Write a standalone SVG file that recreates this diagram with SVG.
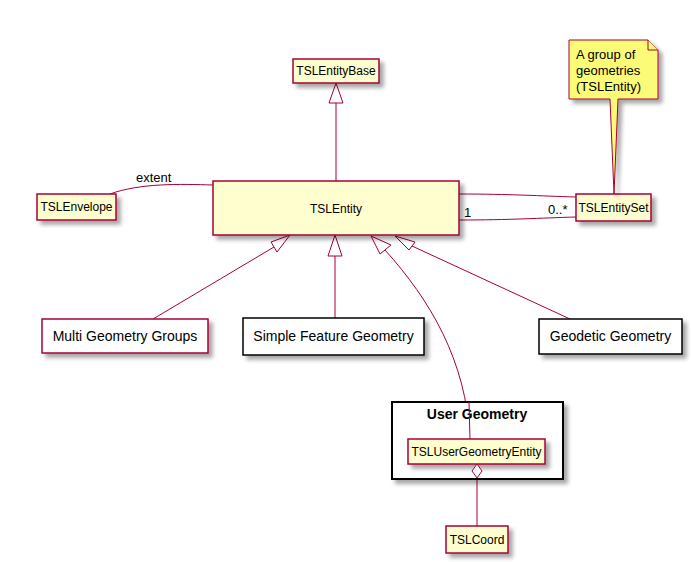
<svg xmlns="http://www.w3.org/2000/svg" width="691" height="562" viewBox="0 0 691 562">
<defs>
<filter id="sh" x="-10%" y="-10%" width="130%" height="140%">
<feGaussianBlur in="SourceAlpha" stdDeviation="2"/>
<feOffset dx="4" dy="4" result="b"/>
<feComponentTransfer><feFuncA type="linear" slope="0.35"/></feComponentTransfer>
<feMerge><feMergeNode/><feMergeNode in="SourceGraphic"/></feMerge>
</filter>
</defs>
<style>
.cls{fill:#FEFECE;stroke:#A80036;stroke-width:1.5}
.pkg{fill:#FFFFFF;stroke:#A80036;stroke-width:1.5}
.blk{fill:#FFFFFF;stroke:#000000;stroke-width:1.5}
.frm{fill:#FFFFFF;stroke:#000000;stroke-width:2}
.note{fill:#FBFB77;stroke:#A80036;stroke-width:1}
.ln{fill:none;stroke:#A80036;stroke-width:1}
.tri{fill:#FFFFFF;stroke:#A80036;stroke-width:1}
text{font-family:"Liberation Sans",Arial,sans-serif;fill:#000000}
.t12{font-size:12px;text-anchor:middle}
.t14{font-size:14px;text-anchor:middle}
.t13{font-size:13px}
.b14{font-size:14px;font-weight:bold;text-anchor:middle}
</style>
<rect width="691" height="562" fill="#FFFFFF"/>

<g id="connectors">
<path class="ln" d="M336,181 L336,103"/>
<polygon class="tri" points="336,83 329,103 343,103"/>
<path class="ln" d="M110,194 C140,183 180,184 213,185"/>
<text class="t13" x="136" y="182">extent</text>
<path class="ln" d="M459,194 C510,194 540,196 576,197"/>
<path class="ln" d="M459,220 C510,220 540,218 576,217"/>
<text class="t13" x="464" y="217">1</text>
<text class="t13" x="548" y="214">0..*</text>
<path class="ln" d="M274,247 L153,319"/>
<polygon class="tri" points="290,235 271,242 277,252"/>
<path class="ln" d="M335,256 L335,318"/>
<polygon class="tri" points="335,235 328,256 342,256"/>
<path class="ln" d="M385,250 C430,300 466,360 470,439"/>
<polygon class="tri" points="371,236 380,254 391,245"/>
<path class="ln" d="M412,246 L570,319"/>
<polygon class="tri" points="395,236 409,250 415,242"/>
<path class="ln" d="M477,478 L477,526"/>
<polygon class="tri" points="477,464 482,471 477,478 472,471"/>
</g>

<g id="TSLEntityBase">
<rect class="cls" x="293" y="59" width="86" height="24" filter="url(#sh)"/>
<text class="t12" x="336" y="75">TSLEntityBase</text>
</g>

<g id="TSLEntity">
<rect class="cls" x="213" y="181" width="246" height="54" filter="url(#sh)"/>
<text class="t12" x="336" y="213">TSLEntity</text>
</g>

<g id="TSLEnvelope">
<rect class="cls" x="37" y="194" width="79" height="26" filter="url(#sh)"/>
<text class="t12" x="76.5" y="211">TSLEnvelope</text>
</g>

<g id="TSLEntitySet">
<rect class="cls" x="576" y="194" width="75" height="27" filter="url(#sh)"/>
<text class="t12" x="613.5" y="212">TSLEntitySet</text>
</g>

<g id="note">
<path class="note" d="M569,40 L648,40 L658,50 L658,99 L618,99 L614,194 L610,99 L569,99 Z" filter="url(#sh)"/>
<path class="note" d="M648,40 L648,50 L658,50" fill="none"/>
<text class="t13" x="576" y="59">A group of</text>
<text class="t13" x="576" y="75">geometries</text>
<text class="t13" x="576" y="91">(TSLEntity)</text>
</g>

<g id="MultiGeometryGroups">
<rect class="pkg" x="42" y="319" width="166" height="34" filter="url(#sh)"/>
<text class="t14" x="125" y="341">Multi Geometry Groups</text>
</g>

<g id="SimpleFeatureGeometry">
<rect class="blk" x="243" y="318" width="181" height="37" filter="url(#sh)"/>
<text class="t14" x="333.5" y="341">Simple Feature Geometry</text>
</g>

<g id="GeodeticGeometry">
<rect class="blk" x="539" y="319" width="143" height="35" filter="url(#sh)"/>
<text class="t14" x="610.5" y="341">Geodetic Geometry</text>
</g>

<g id="UserGeometry">
<rect class="frm" x="392" y="402" width="171" height="77" filter="url(#sh)"/>
<text class="b14" x="477" y="419">User Geometry</text>
</g>

<g id="TSLUserGeometryEntity">
<path class="ln" d="M469,402 L470,439"/>
<rect class="cls" x="408" y="439" width="137" height="25" filter="url(#sh)"/>
<text class="t12" x="476.5" y="456">TSLUserGeometryEntity</text>
<polygon class="tri" points="477,464 482,471 477,478 472,471"/>
</g>

<g id="TSLCoord">
<rect class="cls" x="446" y="526" width="62" height="27" filter="url(#sh)"/>
<text class="t12" x="477" y="544">TSLCoord</text>
</g>
</svg>
